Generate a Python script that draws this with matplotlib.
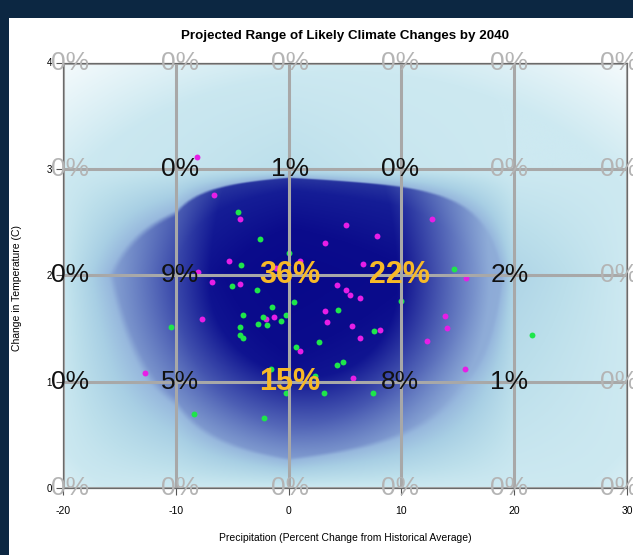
import numpy as np
import matplotlib
matplotlib.use("Agg")
import matplotlib.pyplot as plt
from matplotlib.colors import LinearSegmentedColormap, to_rgb
from matplotlib.patches import Rectangle

plt.rcParams['font.family'] = ['Liberation Sans', 'DejaVu Sans']
plt.rcParams['axes.unicode_minus'] = False

# Grid of projected outcomes
precip_ticks = [-20, -10, 0, 10, 20, 30]      # % change in precipitation
temp_ticks = [0, 1, 2, 3, 4]                  # change in temperature (C)

# Likelihood (%) of each outcome, rows follow temp_ticks, columns follow precip_ticks
likelihood = [
    [0.0, 0.0, 0.0, 0.0, 0.0, 0.0],
    [0.2, 5.0, 15.0, 8.0, 1.0, 0.0],
    [0.3, 9.0, 36.0, 22.0, 2.0, 0.0],
    [0.0, 0.4, 1.0, 0.3, 0.0, 0.0],
    [0.0, 0.0, 0.0, 0.0, 0.0, 0.0],
]

# Individual model projections
magenta_precip = [-8.1, -6.6, -4.3, -5.3, -8.0, -6.8, -4.3, -1.1, 1.0, 3.2, -7.7, -2.0,
                  -1.3, 3.2, 3.4, 1.0, -12.7, 12.7, 5.1, 7.8, 6.6, 15.7, 4.3, 5.1,
                  5.4, 6.3, 5.6, 8.1, 6.3, 13.9, 14.0, 12.3, 15.6, 5.7]
magenta_temp = [3.11, 2.75, 2.53, 2.13, 2.03, 1.94, 1.92, 2.07, 2.13, 2.30, 1.59, 1.59,
                1.61, 1.66, 1.56, 1.29, 1.08, 2.53, 2.47, 2.37, 2.11, 1.97, 1.91, 1.86,
                1.81, 1.79, 1.52, 1.49, 1.41, 1.62, 1.50, 1.38, 1.12, 1.03]
green_precip = [-4.5, -2.5, 0.0, -4.2, -5.0, -2.8, 0.5, -1.5, -4.0, -2.3, -0.2, -0.7,
                -2.7, -1.9, -4.3, -4.3, -4.0, -10.4, 2.7, 0.7, -1.6, 2.3, -0.2, 3.1,
                -8.4, -2.2, 14.7, 10.0, 4.4, 7.6, 4.3, 4.8, 7.5, 21.6]
green_temp = [2.59, 2.34, 2.21, 2.10, 1.90, 1.86, 1.75, 1.70, 1.63, 1.61, 1.63, 1.57,
              1.54, 1.53, 1.51, 1.44, 1.41, 1.51, 1.37, 1.33, 1.12, 1.05, 0.89, 0.89,
              0.70, 0.66, 2.06, 1.76, 1.67, 1.48, 1.16, 1.18, 0.89, 1.44]

title = "Projected Range of Likely Climate Changes by 2040"
x_label = "Precipitation (Percent Change from Historical Average)"
y_label = "Change in Temperature (C)"

W, H = 633, 555
fig = plt.figure(figsize=(W / 100, H / 100), dpi=100)
fig.patch.set_facecolor('white')
fig.patches.append(Rectangle((0, 0), 9 / W, 1, transform=fig.transFigure,
                             facecolor='#0c2742', edgecolor='none', zorder=0))
fig.patches.append(Rectangle((0, 1 - 18 / H), 1, 18 / H, transform=fig.transFigure,
                             facecolor='#0c2742', edgecolor='none', zorder=0))

ax = fig.add_axes([63 / W, 1 - 488 / H, 564 / W, 425.5 / H])

# ---- background: shaded likelihood surface ----
P = np.array(likelihood)
xs = np.linspace(precip_ticks[0], precip_ticks[-1], 700)
ys = np.linspace(temp_ticks[0], temp_ticks[-1], 500)
X, Y = np.meshgrid(xs, ys)
fx = (X - precip_ticks[0]) / (precip_ticks[1] - precip_ticks[0])
fy = (Y - temp_ticks[0]) / (temp_ticks[1] - temp_ticks[0])
i = np.clip(np.floor(fx).astype(int), 0, len(precip_ticks) - 2)
j = np.clip(np.floor(fy).astype(int), 0, len(temp_ticks) - 2)
tx, ty = fx - i, fy - j
F = (P[j, i] * (1 - tx) * (1 - ty) + P[j, i + 1] * tx * (1 - ty)
     + P[j + 1, i] * (1 - tx) * ty + P[j + 1, i + 1] * tx * ty)

T = 4.0  # level where the shading turns from pale to deep blue
light_stops = [(0.0, '#cde9f1'), (1.0, '#bcdfeb'), (2.5, '#a8cfe4'), (T, '#94b4dc')]
dark_stops = [(T, '#27349f'), (8.0, '#151d96'), (20.0, '#0b0c8c'), (36.0, '#08088a')]


def ramp(stops):
    lo, hi = stops[0][0], stops[-1][0]
    cm = LinearSegmentedColormap.from_list(
        'r', [((v - lo) / (hi - lo), c) for v, c in stops])
    return lambda z: cm(np.clip((z - lo) / (hi - lo), 0, 1))[..., :3]


light_rgb = ramp(light_stops)(F)
dark_rgb = ramp(dark_stops)(F)

# soften the deep zone toward the left, right and bottom
cx, cy = 2.0, 1.9
dxn = np.where(X < cx, (X - cx) / 20.0, (X - cx) / 17.0)
dyn = np.where(Y < cy, (Y - cy) / 1.9, (Y - cy) / 4.0)
fade = np.clip((np.hypot(dxn, dyn) - 0.45) / 0.6, 0, 0.8)[..., None]
dark_rgb = dark_rgb * (1 - fade) + fade * np.array(to_rgb('#a9cbe6'))

m = np.clip((F - (T - 0.3)) / 0.6, 0, 1)
m = (m * m * (3 - 2 * m))[..., None]
rgb = light_rgb * (1 - m) + dark_rgb * m

# pale haze in the outer corners
u = (X - 5) / 28.0
v = (Y - 1.6) / 2.2
haze = (np.clip((np.hypot(u, v) - 1.05) / 0.38, 0, 1) * 0.85)[..., None]
rgb = rgb * (1 - haze) + haze

ax.imshow(rgb, extent=[precip_ticks[0], precip_ticks[-1], temp_ticks[0], temp_ticks[-1]],
          origin='lower', aspect='auto', interpolation='bilinear', zorder=0)

# ---- model projections ----
ax.scatter(magenta_precip, magenta_temp, s=18, c='#e61ee6', linewidths=0, zorder=2)
ax.scatter(green_precip, green_temp, s=18, c='#1ee64b', linewidths=0, zorder=2)

for p in precip_ticks:
    ax.axvline(p, color='#a8a8a8', lw=2.2, zorder=3)
for t in temp_ticks:
    ax.axhline(t, color='#a8a8a8', lw=2.2, zorder=3)

# ---- likelihood labels at every node ----
for r, t in enumerate(temp_ticks):
    for c, p in enumerate(precip_ticks):
        val = likelihood[r][c]
        if val == 0:
            color, weight, size = '#b4b4b4', 'normal', 19
        elif val >= 10:
            color, weight, size = '#f7b928', 'bold', 22
        else:
            color, weight, size = '#111111', 'normal', 19
        x_text = 4 + (p - 4) * 0.973
        ax.text(x_text, t, f"{val:.0f}%", ha='center', va='center', color=color,
                fontsize=size, fontweight=weight, zorder=5, clip_on=False)

ax.set_xlim(precip_ticks[0], precip_ticks[-1])
ax.set_ylim(temp_ticks[0], temp_ticks[-1])
ax.set_xticks(precip_ticks)
ax.set_yticks(temp_ticks)
ax.tick_params(length=5, width=0.8, color='#555555', labelsize=7.5, pad=3)
ax.tick_params(axis='x', pad=8)
ax.tick_params(axis='y', labelsize=7)
for s in ax.spines.values():
    s.set_color('#6a6a6a')
    s.set_linewidth(0.9)
    s.set_zorder(4)

ax.set_title(title, fontsize=9.6, fontweight='bold', pad=17)
ax.set_xlabel(x_label, fontsize=7.5, labelpad=12)
ax.set_ylabel(y_label, fontsize=7.5)
ax.yaxis.set_label_coords(-0.0727, 0.47)

fig.savefig('out.png', dpi=100)
